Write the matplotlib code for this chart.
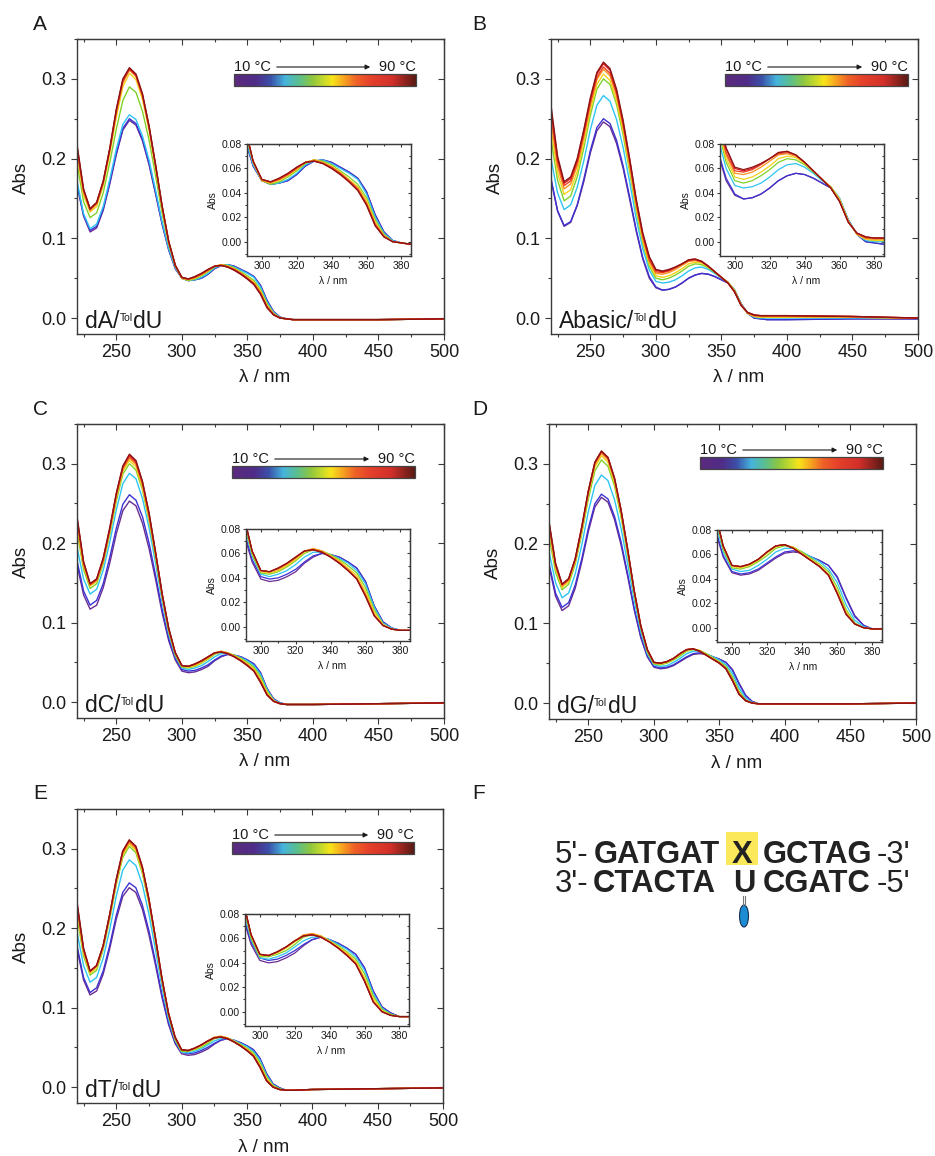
import matplotlib
matplotlib.use('Agg')
import matplotlib.pyplot as plt
import numpy as np
from matplotlib.colors import LinearSegmentedColormap, Normalize
from matplotlib.cm import ScalarMappable
from matplotlib.ticker import MultipleLocator, FormatStrFormatter
from matplotlib.patches import Rectangle, Ellipse, FancyArrowPatch
from matplotlib.lines import Line2D

plt.rcParams['font.family'] = ['Liberation Sans', 'DejaVu Sans']

# ---------------- data (absorbance in 1e-3 units) ----------------
WL = [220, 225, 230, 235, 240, 245, 250, 255, 260, 265, 270, 275, 280, 285, 290, 295,
      300, 305, 310, 315, 320, 325, 330, 335, 340, 345, 350, 355, 360, 365, 370, 375,
      380, 385, 400, 450, 500]
TEMPS = [10, 20, 30, 40, 50, 60, 70, 80, 90]

abs_A = [
    [167,128,108,113,135,168,205,236,248,242,222,192,155,117,85,62,50,47,48,50,55,62,66,67,65,61,57,52,41,22,8,1,-1,-2,-2,-2,-1],
    [168,129,110,115,137,170,207,238,250,244,224,194,157,118,86,62,50,47,48,50,55,62,66,67,65,61,57,52,41,22,8,1,-1,-2,-2,-2,-1],
    [172,131,112,118,140,174,212,243,255,249,228,198,160,120,87,63,50,47,48,51,56,63,66,67,64,60,56,51,39,20,7,1,-1,-2,-2,-2,-1],
    [195,146,126,132,157,195,237,273,290,283,259,223,178,131,92,65,50,47,49,53,58,64,67,66,63,58,53,47,36,18,6,0,-1,-2,-2,-2,-1],
    [205,154,133,140,166,206,252,290,307,299,274,235,187,137,94,65,50,48,50,54,59,65,67,65,62,57,51,45,34,16,5,0,-1,-2,-2,-2,-1],
    [210,158,135,143,169,210,257,295,311,303,278,238,190,139,95,66,50,48,51,55,60,65,67,65,61,56,50,44,32,15,5,0,-1,-2,-2,-2,-1],
    [213,160,136,144,170,211,259,297,312,304,279,239,191,139,95,66,51,49,51,55,60,65,66,64,61,56,50,43,31,14,4,0,-1,-2,-2,-2,-1],
    [215,161,137,145,171,212,261,299,313,305,280,240,191,140,96,66,51,49,52,56,61,65,66,64,60,55,49,42,30,13,4,0,-1,-2,-2,-2,-1],
    [218,162,137,145,172,213,262,300,314,306,281,241,192,140,96,66,51,49,52,56,61,65,66,64,60,55,49,42,30,13,4,0,-1,-2,-2,-2,-1],
]
abs_B = [
    [173,134,115,120,141,171,207,235,246,240,219,188,149,109,74,50,38,35,36,39,44,50,54,56,55,52,48,44,35,18,6,0,-1,-2,-2,-1,-1],
    [175,135,116,121,142,174,210,239,250,244,223,191,152,111,76,52,39,35,36,39,44,50,54,56,55,52,48,44,35,18,6,0,-1,-2,-2,-1,-1],
    [200,157,136,142,164,197,236,267,279,272,249,214,171,125,87,60,46,44,45,48,53,59,63,64,61,56,50,45,36,18,6,1,0,0,0,0,0],
    [225,173,147,153,177,213,254,287,300,293,268,230,184,135,94,65,50,48,50,54,59,65,68,67,63,57,51,45,35,17,6,2,1,1,1,1,0],
    [238,182,155,161,184,220,261,293,306,298,273,235,188,139,97,68,53,51,53,57,62,68,70,69,64,58,51,45,35,17,6,2,1,1,1,1,0],
    [248,190,162,168,191,227,267,299,312,304,279,240,193,143,101,71,56,55,57,61,66,71,72,70,65,58,51,44,34,17,6,3,2,2,2,1,0],
    [256,196,166,172,195,230,270,302,315,307,282,243,195,145,103,73,58,57,59,63,68,72,73,71,65,58,51,44,33,16,7,3,3,3,3,2,0],
    [262,200,169,175,198,234,274,306,319,311,285,246,199,148,105,76,60,58,60,64,68,73,74,71,65,58,51,44,33,16,7,4,3,3,3,2,0],
    [267,203,171,177,200,236,276,308,321,313,287,248,200,149,107,77,61,59,61,64,68,73,74,71,65,58,51,44,33,16,7,4,3,3,3,2,0],
]
abs_C = [
    [173,135,117,122,144,175,212,241,253,247,225,193,154,112,77,53,39,37,38,41,45,52,57,60,59,57,53,48,37,17,4,-1,-3,-3,-3,-2,-1],
    [178,140,122,128,149,182,219,249,261,254,233,200,159,116,80,55,41,39,40,43,47,53,58,60,59,57,53,48,37,17,4,-1,-3,-3,-3,-2,-1],
    [195,155,136,142,166,201,242,275,288,281,256,219,174,126,86,58,43,41,43,46,51,57,61,61,59,56,52,46,35,16,3,-1,-3,-3,-3,-2,-1],
    [215,167,143,149,174,211,253,287,300,292,267,228,181,131,89,59,44,43,45,49,54,60,63,62,59,55,50,44,32,14,2,-2,-3,-3,-3,-2,-1],
    [222,171,146,152,177,214,257,291,304,296,270,231,184,133,90,61,45,44,46,50,55,61,64,62,58,54,48,42,29,12,2,-2,-3,-3,-3,-2,-1],
    [227,173,147,153,178,216,259,293,307,299,273,234,186,135,92,62,46,45,47,51,56,62,64,62,58,53,47,40,27,10,1,-2,-3,-3,-3,-2,-1],
    [230,175,148,154,179,217,261,295,309,301,275,235,187,135,92,62,46,45,48,52,57,62,63,61,57,52,46,39,25,9,1,-2,-3,-3,-3,-2,-1],
    [232,176,149,155,181,219,262,297,311,303,277,237,188,136,92,62,46,45,48,52,57,62,63,61,57,52,46,39,25,9,1,-2,-3,-3,-3,-2,-1],
    [234,177,149,155,181,219,263,297,312,304,277,238,188,136,93,62,46,45,48,52,57,62,63,61,57,52,46,39,25,9,1,-2,-3,-3,-3,-2,-1],
]
abs_D = [
    [172,134,116,122,144,177,215,246,258,252,230,198,159,117,82,58,45,43,44,47,52,57,61,62,61,58,55,51,42,25,10,2,-1,-1,-1,-1,0],
    [175,138,120,126,148,181,219,250,262,256,234,202,162,119,84,59,46,44,45,48,53,58,62,63,61,58,55,51,41,24,9,2,-1,-1,-1,-1,0],
    [190,151,132,138,162,198,240,273,286,279,255,219,175,129,90,62,48,46,47,51,56,62,65,65,62,58,54,48,37,19,6,1,-1,-1,-1,-1,0],
    [210,164,142,149,174,212,256,291,305,297,272,233,186,136,94,64,49,48,50,54,59,65,67,66,62,57,52,46,33,15,4,0,-1,-1,-1,-1,0],
    [218,169,145,152,177,216,261,296,310,302,276,237,189,138,96,66,50,49,51,55,61,66,68,66,61,56,51,44,30,13,3,0,-1,-1,-1,-1,0],
    [222,172,147,154,179,218,263,299,313,305,279,240,191,140,97,67,51,50,52,56,62,67,68,65,60,55,50,43,29,12,3,0,-1,-1,-1,-1,0],
    [225,173,148,155,180,220,265,301,315,307,281,241,192,141,97,67,51,50,52,56,62,67,68,65,60,55,50,43,28,11,3,0,-1,-1,-1,-1,0],
    [227,175,149,156,181,221,266,302,316,308,282,242,193,141,97,67,51,50,52,56,62,67,68,65,60,55,50,43,28,11,3,0,-1,-1,-1,-1,0],
    [228,175,149,156,181,221,266,302,316,308,282,242,193,141,97,67,51,50,52,56,62,67,68,65,60,55,50,43,28,11,3,0,-1,-1,-1,-1,0],
]
abs_E = [
    [174,135,116,121,142,174,211,240,251,245,224,192,154,113,79,55,42,40,41,44,48,54,59,61,59,56,52,47,36,17,4,-1,-4,-4,-3,-2,-1],
    [178,138,119,125,146,178,216,245,257,251,229,197,158,116,81,57,44,42,43,46,50,55,59,61,59,56,52,47,36,17,4,-1,-4,-4,-3,-2,-1],
    [195,153,132,138,162,198,240,273,286,279,255,218,173,126,86,59,44,43,45,48,53,58,61,61,59,55,51,45,34,15,3,-2,-4,-4,-3,-2,-1],
    [215,165,141,147,173,211,254,289,303,295,269,231,183,133,90,60,45,45,47,50,55,61,63,62,58,54,49,43,31,13,2,-2,-4,-4,-3,-2,-1],
    [222,169,143,150,175,213,257,292,306,298,272,233,185,134,92,62,46,46,48,52,57,62,64,62,58,53,48,41,28,11,1,-3,-4,-4,-3,-2,-1],
    [226,172,145,152,177,215,259,294,308,300,274,235,187,136,93,63,47,46,49,53,58,63,64,62,57,52,47,40,26,9,0,-3,-4,-4,-3,-2,-1],
    [229,173,146,153,178,217,261,296,310,302,276,236,188,136,93,63,47,46,49,53,58,62,63,61,57,52,46,39,25,8,0,-3,-4,-4,-3,-2,-1],
    [231,174,146,153,178,217,261,297,311,303,277,237,188,137,93,63,47,46,49,53,58,62,63,61,57,52,46,39,25,8,0,-3,-4,-4,-3,-2,-1],
    [233,175,146,153,178,217,261,297,311,303,277,237,188,137,93,63,47,46,49,53,58,62,63,61,57,52,46,39,25,8,0,-3,-4,-4,-3,-2,-1],
]
PANEL_NAMES = ['dA', 'Abasic', 'dC', 'dG', 'dT']

LINE_COLORS = ['#6a2c91', '#3c32d2', '#2ec4f2', '#7fd22b', '#f2d21b',
               '#f7941d', '#ef4123', '#d7191c', '#8b1414']
CB_STOPS = [(0.0, '#5b2a7c'), (0.12, '#4f2c88'), (0.2, '#3b4fa8'), (0.28, '#45b4dc'),
            (0.36, '#5cbf8a'), (0.43, '#8ec63f'), (0.5, '#cddc29'), (0.54, '#f7e41a'),
            (0.6, '#f7a91f'), (0.67, '#ef6326'), (0.75, '#e5412a'), (0.87, '#d22f2a'),
            (1.0, '#5a1a14')]
cmap = LinearSegmentedColormap.from_list('temp', CB_STOPS)

SPINE = '#3a3a3a'
TXTC = '#1a1a1a'

W, H = 935, 1156
fig = plt.figure(figsize=(W / 100, H / 100), dpi=100)


def rect(x0, y0, x1, y1):
    return [x0 / W, 1 - y1 / H, (x1 - x0) / W, (y1 - y0) / H]


def fx(x):
    return x / W


def fy(y):
    return 1 - y / H


def style_axes(ax, xmaj, xmin, ymaj, ymin, fmt, fs, length, pad):
    ax.xaxis.set_major_locator(MultipleLocator(xmaj))
    ax.xaxis.set_minor_locator(MultipleLocator(xmin))
    ax.yaxis.set_major_locator(MultipleLocator(ymaj))
    ax.yaxis.set_minor_locator(MultipleLocator(ymin))
    ax.yaxis.set_major_formatter(FormatStrFormatter(fmt))
    ax.tick_params(which='both', direction='out', colors=SPINE, labelcolor=TXTC,
                   labelsize=fs, width=0.8, pad=pad)
    ax.tick_params(which='major', length=length)
    ax.tick_params(which='minor', length=length * 0.6)
    for s in ax.spines.values():
        s.set_color(SPINE)
        s.set_linewidth(1.0)
    top = ax.secondary_xaxis('top')
    top.xaxis.set_major_locator(MultipleLocator(xmaj))
    top.xaxis.set_minor_locator(MultipleLocator(xmin))
    top.tick_params(which='both', direction='in', labeltop=False, colors=SPINE, width=0.8)
    top.tick_params(which='major', length=length)
    top.tick_params(which='minor', length=length * 0.6)
    top.spines['top'].set_color(SPINE)
    right = ax.secondary_yaxis('right')
    right.yaxis.set_major_locator(MultipleLocator(ymaj))
    right.yaxis.set_minor_locator(MultipleLocator(ymin))
    right.tick_params(which='both', direction='in', labelright=False, colors=SPINE, width=0.8)
    right.tick_params(which='major', length=length)
    right.tick_params(which='minor', length=length * 0.6)
    right.spines['right'].set_color(SPINE)


layouts = [
    # letter, letter pos, main axes, inset axes, colorbar
    ('A', (33, 30), (77, 39, 444, 334), (247, 144, 411, 256), (234, 74, 416, 86)),
    ('B', (472, 30), (551, 39, 918, 334), (720, 144, 884, 256), (725, 74, 908, 86)),
    ('C', (33, 415), (77, 424, 444, 718), (246, 529, 410, 641), (232, 466, 415, 478)),
    ('D', (472, 415), (549, 424, 916, 719), (717, 530, 882, 642), (700, 457, 883, 469)),
    ('E', (33, 799), (77, 809, 443, 1103), (245, 914, 409, 1026), (232, 842, 414, 854)),
]
datasets = [abs_A, abs_B, abs_C, abs_D, abs_E]

wl = np.array(WL)
for (letter, lpos, mrect, irect, crect), data, name in zip(layouts, datasets, PANEL_NAMES):
    fig.text(fx(lpos[0]), fy(lpos[1]), letter, fontsize=15, ha='left', va='baseline',
             color=TXTC)
    ax = fig.add_axes(rect(*mrect))
    for row, col in zip(data, LINE_COLORS):
        assert len(row) == len(WL)
        ax.plot(wl, np.array(row) / 1000.0, color=col, lw=1.0)
    ax.set_xlim(220, 500)
    ax.set_ylim(-0.02, 0.35)
    style_axes(ax, 50, 25, 0.1, 0.05, '%.1f', 13, 4, 3.5)
    x0, y0, x1, y1 = mrect
    fig.text(fx(x0 - 56), fy((y0 + y1) / 2 - 9), 'Abs', rotation=90, fontsize=13.5,
             ha='center', va='center', color=TXTC)
    fig.text(fx((x0 + x1) / 2 + 4), fy(y1 + 44), 'λ / nm', fontsize=13.5,
             ha='center', va='center', color=TXTC)
    # sample label
    t1 = fig.text(fx(x0 + 7.5), fy(y1 - 6), name + '/', fontsize=16.5, ha='left',
                  va='baseline', color=TXTC)
    t2 = ax.annotate('Tol', xy=(1, 1), xycoords=t1, xytext=(0.5, -2.5),
                     textcoords='offset points', fontsize=7.5, ha='left', va='top',
                     color=TXTC, annotation_clip=False)
    ax.annotate('dU', xy=(1, 0), xycoords=(t2, t1), xytext=(0.5, 0),
                textcoords='offset points', fontsize=16.5, ha='left', va='bottom',
                color=TXTC, annotation_clip=False)

    # inset
    ins = fig.add_axes(rect(*irect))
    for row, col in zip(data, LINE_COLORS):
        ins.plot(wl, np.array(row) / 1000.0, color=col, lw=0.9)
    ins.set_xlim(291.5, 385.5)
    ins.set_ylim(-0.0117, 0.08)
    style_axes(ins, 20, 10, 0.02, 0.01, '%.2f', 7.5, 2.5, 1.2)
    ix0, iy0, ix1, iy1 = irect
    fig.text(fx(ix0 - 34), fy((iy0 + iy1) / 2), 'Abs', rotation=90, fontsize=7.5,
             ha='center', va='center', color=TXTC)
    fig.text(fx((ix0 + ix1) / 2 + 4), fy(iy1 + 25), 'λ / nm', fontsize=7.5,
             ha='center', va='center', color=TXTC)

    # colour bar
    cx0, cy0, cx1, cy1 = crect
    cax = fig.add_axes(rect(*crect))
    cb = fig.colorbar(ScalarMappable(norm=Normalize(TEMPS[0], TEMPS[-1]), cmap=cmap),
                      cax=cax, orientation='horizontal')
    cb.set_ticks([])
    cb.outline.set_edgecolor('#444444')
    cb.outline.set_linewidth(0.9)
    fig.text(fx(cx0), fy(cy0 - 3), f'{TEMPS[0]} °C', fontsize=10.5, ha='left',
             va='baseline', color=TXTC)
    fig.text(fx(cx1), fy(cy0 - 3), f'{TEMPS[-1]} °C', fontsize=10.5, ha='right',
             va='baseline', color=TXTC)
    fig.add_artist(FancyArrowPatch(
        (fx(cx0 + 40), fy(cy0 - 7)), (fx(cx1 - 43), fy(cy0 - 7)),
        transform=fig.transFigure, arrowstyle='-|>', mutation_scale=7,
        lw=0.8, color=TXTC))

# ---------------- panel F ----------------
fig.text(fx(472), fy(799), 'F', fontsize=15, ha='left', va='baseline', color=TXTC)
FS = 22.3
TXT = '#222222'
fig.patches.append(Rectangle((fx(726), fy(865)), (758 - 726) / W, (865 - 832) / H,
                             transform=fig.transFigure, facecolor='#fce95b',
                             edgecolor='none', zorder=0))
STRAND_TOP = ["5'-", 'GATGAT', 'X', 'GCTAG', "-3'"]
STRAND_BOT = ["3'-", 'CTACTA', 'U', 'CGATC', "-5'"]
for parts, base, xs in ((STRAND_TOP, 863, (555, 594, 742, 763, 877)),
                        (STRAND_BOT, 892, (555, 593, 744, 763, 877))):
    for i, (s, xx) in enumerate(zip(parts, xs)):
        fig.text(fx(xx), fy(base), s, fontsize=FS,
                 weight='normal' if i in (0, 4) else 'bold',
                 ha='center' if i == 2 else 'left', va='baseline', color=TXT)
# linker and tolyl group
for xx in (742.8, 745.2):
    fig.add_artist(Line2D([fx(xx), fx(xx)], [fy(896), fy(905)], transform=fig.transFigure,
                          color='#777777', lw=0.8))
fig.add_artist(Ellipse((fx(744), fy(916)), 9 / W, 22 / H, transform=fig.transFigure,
                       facecolor='#1b8bd3', edgecolor='#1a3050', lw=0.8))

fig.savefig('out.png', dpi=100, facecolor='white')
